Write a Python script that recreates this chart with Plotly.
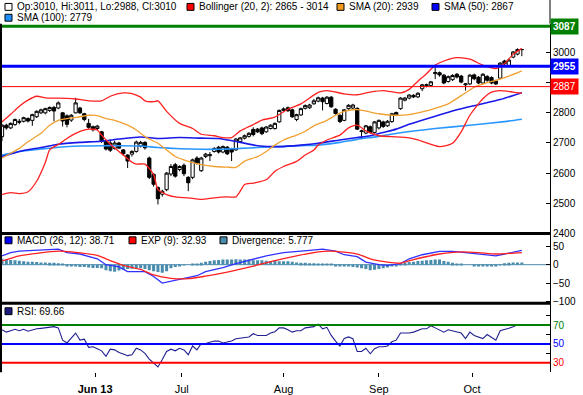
import plotly.graph_objects as go

# ---------------- data ----------------
idx = list(range(121))

open_ = [2721, 2759, 2750, 2761, 2772, 2772, 2781, 2775, 2787, 2800,
         2800, 2808, 2818, 2816, 2800, 2790, 2776, 2800, 2816, 2797,
         2765, 2754, 2748, 2737, 2705, 2700, 2682, 2700, 2677, 2660,
         2663, 2672, 2690, 2702, 2650, 2596, 2552, 2530, 2545, 2597,
         2628, 2612, 2626, 2586, 2586, 2650, 2608, 2655, 2658, 2672,
         2686, 2670, 2686, 2680, 2677, 2705, 2716, 2722, 2745, 2746,
         2750, 2737, 2748, 2748, 2770, 2808, 2817, 2810, 2778, 2793,
         2815, 2817, 2830, 2839, 2849, 2831, 2852, 2812, 2792, 2775,
         2814, 2816, 2815, 2738, 2733, 2754, 2735, 2750, 2770, 2757,
         2771, 2793, 2814, 2842, 2849, 2858, 2853, 2880, 2890, 2891,
         2930, 2933, 2925, 2904, 2910, 2928, 2922, 2893, 2896, 2926,
         2918, 2899, 2921, 2917, 2906, 2915, 2972, 2957, 2985, 2995,
         3010]
high_ = [2763, 2764, 2768, 2781, 2780, 2787, 2785, 2797, 2808, 2814,
         2817, 2821, 2823, 2838, 2803, 2795, 2796, 2850, 2820, 2800,
         2780, 2758, 2760, 2740, 2708, 2712, 2708, 2704, 2680, 2662,
         2676, 2708, 2707, 2706, 2655, 2600, 2556, 2545, 2604, 2630,
         2634, 2626, 2632, 2590, 2648, 2656, 2654, 2667, 2670, 2686,
         2690, 2692, 2690, 2684, 2716, 2720, 2728, 2736, 2752, 2750,
         2754, 2756, 2762, 2768, 2811, 2818, 2821, 2814, 2797, 2817,
         2828, 2830, 2846, 2854, 2853, 2856, 2856, 2815, 2795, 2813,
         2829, 2830, 2818, 2744, 2760, 2758, 2773, 2778, 2774, 2776,
         2800, 2804, 2852, 2853, 2862, 2862, 2868, 2896, 2897, 2906,
         2960, 2937, 2929, 2924, 2928, 2932, 2926, 2899, 2929, 2930,
         2922, 2932, 2925, 2921, 2910, 2968, 2976, 2980, 3005, 3014,
         3011]
low_ = [2706, 2744, 2746, 2757, 2762, 2768, 2768, 2757, 2783, 2796,
        2795, 2803, 2772, 2812, 2755, 2752, 2770, 2798, 2796, 2772,
        2747, 2738, 2743, 2700, 2675, 2670, 2678, 2680, 2658, 2617,
        2655, 2668, 2685, 2678, 2580, 2555, 2496, 2522, 2540, 2590,
        2585, 2606, 2590, 2540, 2580, 2628, 2604, 2650, 2640, 2668,
        2665, 2666, 2660, 2640, 2674, 2700, 2712, 2718, 2722, 2733,
        2726, 2734, 2745, 2744, 2767, 2804, 2803, 2783, 2772, 2790,
        2811, 2813, 2827, 2835, 2808, 2828, 2817, 2794, 2766, 2772,
        2810, 2812, 2743, 2716, 2729, 2731, 2731, 2745, 2750, 2753,
        2767, 2789, 2810, 2838, 2845, 2849, 2849, 2872, 2885, 2887,
        2912, 2920, 2895, 2900, 2906, 2914, 2898, 2874, 2892, 2908,
        2895, 2895, 2903, 2895, 2892, 2912, 2959, 2953, 2981, 2991,
        2988]
close_ = [2759, 2750, 2765, 2778, 2769, 2784, 2773, 2794, 2805, 2810,
          2814, 2818, 2806, 2833, 2773, 2762, 2792, 2833, 2800, 2778,
          2752, 2744, 2756, 2705, 2680, 2676, 2700, 2683, 2664, 2640,
          2672, 2703, 2702, 2684, 2586, 2563, 2515, 2540, 2600, 2622,
          2590, 2622, 2598, 2568, 2644, 2634, 2650, 2663, 2661, 2682,
          2670, 2688, 2664, 2670, 2713, 2717, 2724, 2732, 2728, 2737,
          2731, 2753, 2759, 2765, 2808, 2813, 2807, 2787, 2794, 2814,
          2824, 2826, 2840, 2850, 2837, 2852, 2820, 2798, 2771, 2810,
          2825, 2826, 2746, 2740, 2757, 2735, 2770, 2775, 2755, 2772,
          2797, 2801, 2849, 2849, 2859, 2853, 2865, 2893, 2893, 2903,
          2934, 2926, 2899, 2920, 2924, 2919, 2902, 2896, 2925, 2913,
          2899, 2928, 2908, 2899, 2896, 2965, 2963, 2975, 3002, 3010,
          3010]

bb_up_x = [0, 2, 4, 6, 8, 10, 12, 15, 17, 20, 23, 25, 28, 30, 32, 33, 35, 36, 38, 41,
           44, 46, 49, 51, 53, 55, 58, 60, 63, 66, 69, 73, 75, 79, 82, 85, 88, 92, 94, 96,
           98, 100, 102, 105, 108, 111, 114, 116, 118, 120]
bb_up = [2770, 2795, 2822, 2842, 2855, 2850, 2849, 2848, 2846, 2840, 2840, 2855, 2866, 2864, 2852, 2840, 2837, 2840, 2805, 2765,
         2748, 2729, 2724, 2718, 2718, 2740, 2761, 2776, 2786, 2812, 2830, 2868, 2874, 2863, 2860, 2869, 2874, 2866, 2878, 2905,
         2930, 2958, 2972, 2983, 2978, 2958, 2947, 2964, 2994, 3014]

bb_lo_x = [0, 2, 4, 6, 8, 10, 11, 13, 15, 17, 20, 22, 23, 25, 27, 30, 31, 33, 35, 36,
           38, 40, 43, 46, 49, 52, 54, 55, 56, 58, 61, 63, 65, 68, 70, 72, 73, 75, 78, 80,
           82, 84, 87, 90, 94, 96, 101, 104, 106, 108, 111, 113, 115, 118, 120]
bb_lo = [2529, 2535, 2532, 2538, 2573, 2635, 2677, 2695, 2715, 2732, 2746, 2743, 2726, 2696, 2672, 2636, 2630, 2630, 2595, 2545,
         2529, 2521, 2518, 2513, 2518, 2521, 2521, 2540, 2562, 2567, 2578, 2606, 2622, 2639, 2660, 2677, 2693, 2710, 2726, 2750,
         2759, 2740, 2724, 2721, 2717, 2710, 2688, 2699, 2737, 2792, 2847, 2869, 2874, 2869, 2865]

sma20_x = [0, 2, 4, 6, 9, 11, 13, 16, 18, 20, 22, 24, 26, 29, 31, 33, 36, 38, 40, 43,
           46, 49, 52, 54, 56, 59, 61, 63, 65, 68, 70, 72, 75, 77, 79, 82, 84, 87, 90, 94,
           97, 100, 103, 106, 109, 112, 114, 117, 120]
sma20 = [2650, 2666, 2682, 2704, 2732, 2759, 2775, 2783, 2787, 2792, 2791, 2781, 2775, 2759, 2743, 2721, 2699, 2677, 2655, 2639,
         2628, 2622, 2620, 2619, 2640, 2655, 2672, 2693, 2710, 2726, 2739, 2757, 2775, 2792, 2805, 2811, 2806, 2797, 2792, 2794,
         2803, 2815, 2830, 2857, 2885, 2900, 2908, 2922, 2939]

sma50_x = [0, 4, 9, 13, 18, 23, 27, 32, 36, 41, 46, 50, 55, 59, 64, 69, 73, 78, 82, 85,
           88, 91, 94, 100, 105, 110, 115, 120]
sma50 = [2655, 2672, 2685, 2696, 2702, 2706, 2713, 2720, 2715, 2718, 2716, 2715, 2702, 2691, 2688, 2693, 2699, 2710, 2718, 2724,
         2735, 2746, 2762, 2789, 2810, 2827, 2844, 2867]

sma100_x = [0, 4, 9, 13, 18, 23, 27, 32, 36, 41, 46, 50, 55, 59, 64, 69, 73, 78, 82, 87,
            92, 100, 108, 116, 120]
sma100 = [2660, 2672, 2680, 2686, 2690, 2691, 2691, 2690, 2685, 2681, 2679, 2679, 2682, 2685, 2688, 2691, 2693, 2702, 2712, 2722,
          2734, 2748, 2759, 2771, 2779]

macd_x = [0, 2, 4, 8, 11, 13, 15, 18, 22, 24, 27, 29, 33, 35, 37, 40, 42, 45, 47, 51,
          54, 58, 61, 65, 68, 71, 74, 77, 79, 82, 84, 87, 89, 92, 94, 97, 101, 104, 107, 110,
          114, 116, 120]
macd = [24, 33, 37, 40, 42, 42, 33, 29, 16, 0, -6, -19, -19, -32, -50, -43, -39, -30, -19, -8,
        3, 16, 24, 33, 37, 39, 42, 37, 27, 22, 7, 0, -2, 3, 16, 27, 36, 36, 33, 30,
        24, 29, 38.71]

sig_x = [0, 4, 8, 13, 16, 22, 25, 28, 32, 35, 39, 43, 47, 52, 58, 63, 68, 73, 76, 82,
         85, 89, 92, 95, 101, 106, 110, 114, 120]
sig = [10, 24, 31, 37, 35, 25, 11, -2, -13, -28, -37, -38, -31, -20, -4, 11, 24, 35, 37, 29,
       16, 7, 4, 14, 29, 35, 33, 29, 32.93]

divergence = [16, 14, 13, 12, 11, 9, 8, 8, 7, 6,
              6, 5, 5, 4, 1, -3, -4, -5, -6, -6,
              -8, -9, -9, -10, -15, -18, -19, -16, -13, -12,
              -11, -10, -10, -12, -15, -18, -20, -22, -18, -10,
              -6, -3, -1, 0, 2, 3, 5, 8, 10, 12,
              13, 14, 14, 14, 15, 14, 14, 14, 12, 12,
              12, 11, 10, 10, 9, 9, 9, 8, 6, 5,
              5, 4, 4, 3, 3, 1, 1, -3, -5, -5,
              -5, -6, -8, -10, -12, -15, -14, -12, -10, -8,
              -5, -3, 4, 5, 7, 8, 10, 11, 12, 13,
              14, 14, 10, 8, 5, 3, 1, 0, 0, -2,
              -3, -4, -5, -4, -3, -1, 4, 5, 6, 6,
              5.777]

rsi = [65, 62.5, 64, 65.5, 64, 65.5, 63.5, 65, 66, 66.5,
       67, 67.5, 68.3, 67, 54, 51, 55.7, 61.5, 54, 55,
       46.4, 47, 45, 42.7, 36.9, 44.4, 43.7, 41, 39.3, 37.6,
       38.6, 45.4, 43.7, 40, 34, 29.4, 25.6, 33.5, 42, 44.4,
       42.7, 45.4, 43.7, 38.6, 47.8, 43.7, 50.5, 50.5, 52, 53,
       53, 51, 52, 53, 55.5, 56.3, 57, 57.4, 60.8, 59,
       59, 59, 61.5, 63, 67, 67, 65, 62.5, 64, 64,
       67, 67.5, 68.3, 71, 66, 67.6, 59, 53, 47.8, 55.7,
       57.4, 55.5, 42, 42, 45.4, 39.6, 45, 47, 47, 47.8,
       52.3, 54, 61.5, 61.5, 61.5, 62.5, 64, 66, 66, 69.3,
       67, 65, 62.5, 65, 64, 63, 61.5, 55.7, 62.5, 59,
       57, 55.7, 60, 57.4, 54, 64, 65, 66.5, 68.3, 70.3,
       69.66]

tick_pos = [21.5, 41.5, 65, 87, 108.5]
tick_labels = ["<b>Jun 13</b>", "Jul", "Aug", "Sep", "Oct"]

price_levels = [3087, 2955, 2887]
price_level_colors = ["#008000", "#0000ff", "#ff0000"]
price_level_widths = [3, 3, 1]
price_ticks = [2400, 2500, 2600, 2700, 2800, 2900, 3000, 3100]
price_ticktext = ["2400", "2500", "2600", "2700", "2800", "", "3000", ""]

macd_ticks = [-100, -50, 0, 50]
rsi_levels = [70, 50, 30]
rsi_level_colors = ["#008000", "#0000ff", "#ff0000"]
rsi_ticks = [30, 40, 50, 60, 70, 80]

# ---------------- figure ----------------
W, H = 583, 395
PLOT_W = 550
FONT = "Liberation Sans, Arial, sans-serif"

def py(p):  # pixel row -> paper fraction
    return 1 - p / H

def px(p):  # pixel column -> paper fraction
    return p / PLOT_W

price_dom = [py(237), py(24)]
macd_dom = [py(308), py(237)]
rsi_dom = [py(378), py(308)]

C_RED = "#ff2020"
C_ORANGE = "#f0a030"
C_BLUE = "#1818e8"
C_LBLUE = "#2a96ff"
C_HIST = "#4a8cad"
C_RSI = "#202090"

fig = go.Figure()

def line(x, y, color, width, yaxis="y"):
    fig.add_trace(go.Scatter(x=x, y=y, mode="lines", yaxis=yaxis, xaxis="x",
                             line=dict(color=color, width=width, shape="spline", smoothing=0.6),
                             hoverinfo="skip"))

line(sma100_x, sma100, C_LBLUE, 1.6)
line(sma50_x, sma50, C_BLUE, 1.6)
line(sma20_x, sma20, C_ORANGE, 1.3)
line(bb_up_x, bb_up, C_RED, 1.3)
line(bb_lo_x, bb_lo, C_RED, 1.3)

fig.add_trace(go.Candlestick(
    x=idx, open=open_, high=high_, low=low_, close=close_,
    xaxis="x", yaxis="y", whiskerwidth=0,
    increasing=dict(line=dict(color="black", width=1), fillcolor="white"),
    decreasing=dict(line=dict(color="black", width=1), fillcolor="black"),
    hoverinfo="skip"))

fig.add_trace(go.Bar(x=idx, y=divergence, width=0.7, xaxis="x", yaxis="y2",
                     marker=dict(color=C_HIST, line=dict(width=0)), hoverinfo="skip"))
fig.add_trace(go.Scatter(x=macd_x, y=macd, mode="lines", xaxis="x", yaxis="y2",
                         line=dict(color="#3030ff", width=1.3), hoverinfo="skip"))
fig.add_trace(go.Scatter(x=sig_x, y=sig, mode="lines", xaxis="x", yaxis="y2",
                         line=dict(color="#ff2020", width=1.3, shape="spline", smoothing=0.6),
                         hoverinfo="skip"))
fig.add_trace(go.Scatter(x=idx, y=rsi, mode="lines", xaxis="x", yaxis="y3",
                         line=dict(color=C_RSI, width=1.1), hoverinfo="skip"))

shapes = []
annotations = []

# price level lines + value boxes
for lv, col, lw in zip(price_levels, price_level_colors, price_level_widths):
    shapes.append(dict(type="line", xref="x domain", x0=0, x1=1, yref="y", y0=lv, y1=lv,
                       line=dict(color=col, width=lw)))
    annotations.append(dict(xref="paper", x=1.0, xanchor="left", yref="y", y=lv, yanchor="middle",
                            text=("<b>%d</b>" % lv) if lw > 1 else str(lv), showarrow=False,
                            bgcolor=col, borderpad=2,
                            font=dict(family=FONT, size=10, color="white")))

# RSI level lines
for lv, col in zip(rsi_levels, rsi_level_colors):
    shapes.append(dict(type="line", xref="x domain", x0=0, x1=1, yref="y3", y0=lv, y1=lv,
                       line=dict(color=col, width=2)))

# MACD zero line
shapes.append(dict(type="line", xref="x domain", x0=0, x1=1, yref="y2", y0=0, y1=0,
                   line=dict(color=C_HIST, width=1), layer="below"))

# panel separators, borders
for yy in (py(237), py(308)):
    shapes.append(dict(type="line", xref="paper", x0=0, x1=1, yref="paper", y0=yy, y1=yy,
                       line=dict(color="black", width=3)))
shapes.append(dict(type="line", xref="paper", x0=px(1), x1=px(1), yref="paper",
                   y0=py(378), y1=py(24), line=dict(color="black", width=2)))
shapes.append(dict(type="line", xref="paper", x0=1, x1=1, yref="paper",
                   y0=py(24), y1=1, line=dict(color="black", width=1)))

# legends
def legend_item(xp, yp, color, text):
    shapes.append(dict(type="rect", xref="paper", yref="paper",
                       x0=px(xp), x1=px(xp + 7), y0=py(yp + 3.5), y1=py(yp - 3.5),
                       fillcolor=color, line=dict(color="black", width=1)))
    annotations.append(dict(xref="paper", yref="paper", x=px(xp + 10), y=py(yp),
                            xanchor="left", yanchor="middle", text=text, showarrow=False,
                            font=dict(family=FONT, size=10, color="black")))

legend_item(5, 7, "white", "Op:%d, Hi:%d, Lo:%d, Cl:%d" % (open_[-1], high_[-1], low_[-1], close_[-1]))
legend_item(187, 7, "#ff0000", "Bollinger (20, 2): %d - %d" % (bb_lo[-1], bb_up[-1]))
legend_item(337, 7, "#f09a20", "SMA (20): %d" % sma20[-1])
legend_item(432, 7, "#0000ff", "SMA (50): %d" % sma50[-1])
legend_item(5, 18, "#1e90ff", "SMA (100): %d" % sma100[-1])
legend_item(5, 244, "#0000ff", "MACD (26, 12): %.2f" % macd[-1])
legend_item(129, 244, "#ff0000", "EXP (9): %.2f" % sig[-1])
legend_item(220, 244, C_HIST, "Divergence: %.3f" % divergence[-1])
legend_item(5, 316, "#1a1a80", "RSI: %.2f" % rsi[-1])

rsi_ticktext = []
for v in rsi_ticks:
    if v in rsi_levels:
        c = rsi_level_colors[rsi_levels.index(v)]
        rsi_ticktext.append('<span style="color:%s">%d</span>' % (c, v))
    else:
        rsi_ticktext.append("")

yaxis_common = dict(side="right", anchor="x", showgrid=False, zeroline=False, showline=True,
                    linecolor="black", linewidth=1, ticks="inside", ticklen=4, tickcolor="black",
                    tickfont=dict(family=FONT, size=10, color="black"), fixedrange=True)

fig.update_layout(
    width=W, height=H, margin=dict(l=0, r=W - PLOT_W, t=0, b=0),
    paper_bgcolor="white", plot_bgcolor="white", showlegend=False, hovermode=False,
    font=dict(family=FONT, size=10, color="black"),
    boxgap=0.25, boxgroupgap=0,
    xaxis=dict(domain=[0, 1], range=[-0.46, 126.5], anchor="y3", tickvals=tick_pos,
               ticktext=tick_labels, ticks="outside", ticklen=4, tickcolor="black",
               ticklabelstandoff=3,
               showgrid=False, zeroline=False, showline=False,
               rangeslider=dict(visible=False),
               tickfont=dict(family=FONT, size=11, color="black")),
    yaxis=dict(domain=price_dom, range=[2400, 3096], tickvals=price_ticks,
               ticktext=price_ticktext, **yaxis_common),
    yaxis2=dict(domain=macd_dom, range=[-105, 85], tickvals=macd_ticks, **yaxis_common),
    yaxis3=dict(domain=rsi_dom, range=[20, 93], tickvals=rsi_ticks, ticktext=rsi_ticktext,
                **yaxis_common),
    shapes=shapes, annotations=annotations,
)

fig.write_html("out.html", config={"displayModeBar": False},
               post_script="document.body.style.margin='0';document.body.style.overflow='hidden';")
